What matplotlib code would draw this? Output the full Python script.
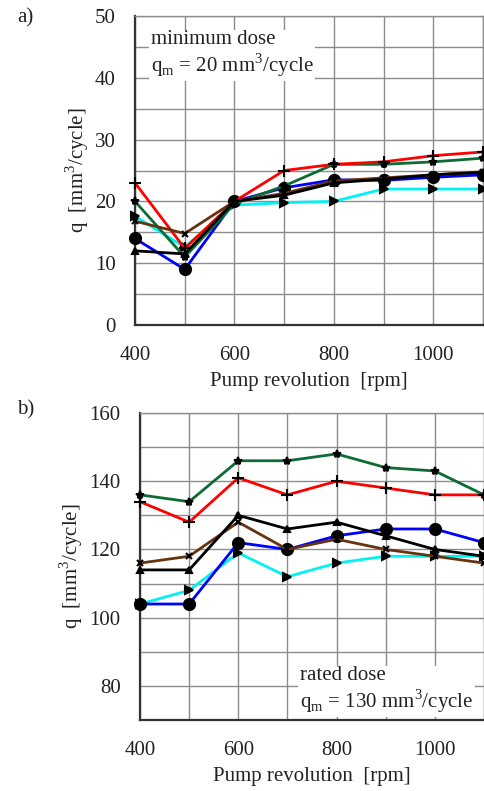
import matplotlib
matplotlib.use('Agg')
import matplotlib.pyplot as plt
from matplotlib.ticker import MultipleLocator

plt.rcParams['font.family'] = ['Liberation Serif', 'DejaVu Serif']
plt.rcParams['mathtext.fontset'] = 'custom'
plt.rcParams['mathtext.rm'] = 'Liberation Serif'

rpm = [400, 500, 600, 700, 800, 900, 1000, 1100]

# a) minimum dose, q in mm3/cycle
min_red = [23, 12.4, 20, 25, 26, 26.4, 27.4, 28]
min_green = [20, 11, 19.6, 22.5, 26, 26, 26.4, 27]
min_cyan = [17.6, 12.6, 19.4, 19.8, 20, 22, 22, 22]
min_blue = [14, 9, 20, 22.2, 23.5, 23.4, 23.9, 24.3]
min_black = [12, 11.5, 20, 21, 23, 23.6, 24.3, 24.7]
min_brown = [16.8, 14.8, 20, 21.3, 23.3, 23.8, 24.3, 24.8]

# b) rated dose
rat_red = [134, 128, 141, 136, 140, 138, 136, 136]
rat_green = [136, 134, 146, 146, 148, 144, 143, 136]
rat_cyan = [104, 108, 119, 112, 116, 118, 118, 118]
rat_blue = [104, 104, 122, 120, 124, 126, 126, 122]
rat_black = [114, 114, 130, 126, 128, 124, 120, 118]
rat_brown = [116, 118, 128, 120, 123, 120, 118, 116]

styles = [
    ('cyan', (0, 0.95, 0.95), '>', 6),
    ('blue', (0, 0, 1), 'o', 8),
    ('green', (0.05, 0.42, 0.2), '*', 6),
    ('red', (1, 0, 0), '+', 9),
    ('brown', (0.4, 0.2, 0.05), 'x', 4),
    ('black', (0, 0, 0), '^', 5),
]

fig = plt.figure(figsize=(4.84, 7.91), dpi=100)
ax1 = fig.add_axes([135 / 484, 1 - 325 / 791, 348 / 484, 309 / 791])
ax2 = fig.add_axes([140 / 484, 1 - 720 / 791, 344 / 484, 307 / 791])

grid_col = '#8c8c8c'
fs = 15


def draw(ax, series, ylim, ymaj, ymin):
    for (name, col, mk, ms), vals in zip(styles, series):
        ax.plot(rpm, vals, color=col, lw=2.0, marker=mk, ms=ms,
                mfc='black', mec='black', mew=1.5, clip_on=False, zorder=3)
    ax.set_xlim(400, 1100)
    ax.set_ylim(*ylim)
    ax.xaxis.set_major_locator(MultipleLocator(200))
    ax.xaxis.set_minor_locator(MultipleLocator(100))
    ax.yaxis.set_major_locator(MultipleLocator(ymaj))
    ax.yaxis.set_minor_locator(MultipleLocator(ymin))
    ax.grid(which='both', color=grid_col, lw=1.0)
    ax.set_axisbelow(True)
    ax.tick_params(which='both', length=0, labelsize=fs, colors='#222222')
    ax.tick_params(axis='x', pad=15)
    ax.tick_params(axis='y', pad=14)
    for s in ['top', 'right']:
        ax.spines[s].set_color(grid_col)
        ax.spines[s].set_linewidth(1.0)
    for s in ['left', 'bottom']:
        ax.spines[s].set_color('#333333')
        ax.spines[s].set_linewidth(1.6)
    ax.set_xlabel('Pump revolution  [rpm]', fontsize=fs, color='#222222', labelpad=5)
    ax.set_ylabel('q  [mm$^3$/cycle]', fontsize=fs, color='#222222', labelpad=3)


draw(ax1, [min_cyan, min_blue, min_green, min_red, min_brown, min_black], (0, 50), 10, 5)
draw(ax2, [rat_cyan, rat_blue, rat_green, rat_red, rat_brown, rat_black], (70, 160), 20, 10)

ax1.text(0.045, 0.955, 'minimum dose\nq$_\\mathrm{m}$ = 20 mm$^3$/cycle', transform=ax1.transAxes,
         fontsize=fs, va='top', ha='left', color='#222222', linespacing=1.1,
         bbox=dict(facecolor='white', edgecolor='none', pad=1.5), zorder=4)
ax2.text(0.465, 0.175, 'rated dose\nq$_\\mathrm{m}$ = 130 mm$^3$/cycle', transform=ax2.transAxes,
         fontsize=fs, va='top', ha='left', color='#222222', linespacing=1.1,
         bbox=dict(facecolor='white', edgecolor='none', pad=1.5), zorder=4)

fig.text(17 / 484, 1 - 18 / 791, 'a)', fontsize=fs, va='center', ha='left', color='#222222')
fig.text(17 / 484, 1 - 410 / 791, 'b)', fontsize=fs, va='center', ha='left', color='#222222')

fig.savefig('out.png', dpi=100)
